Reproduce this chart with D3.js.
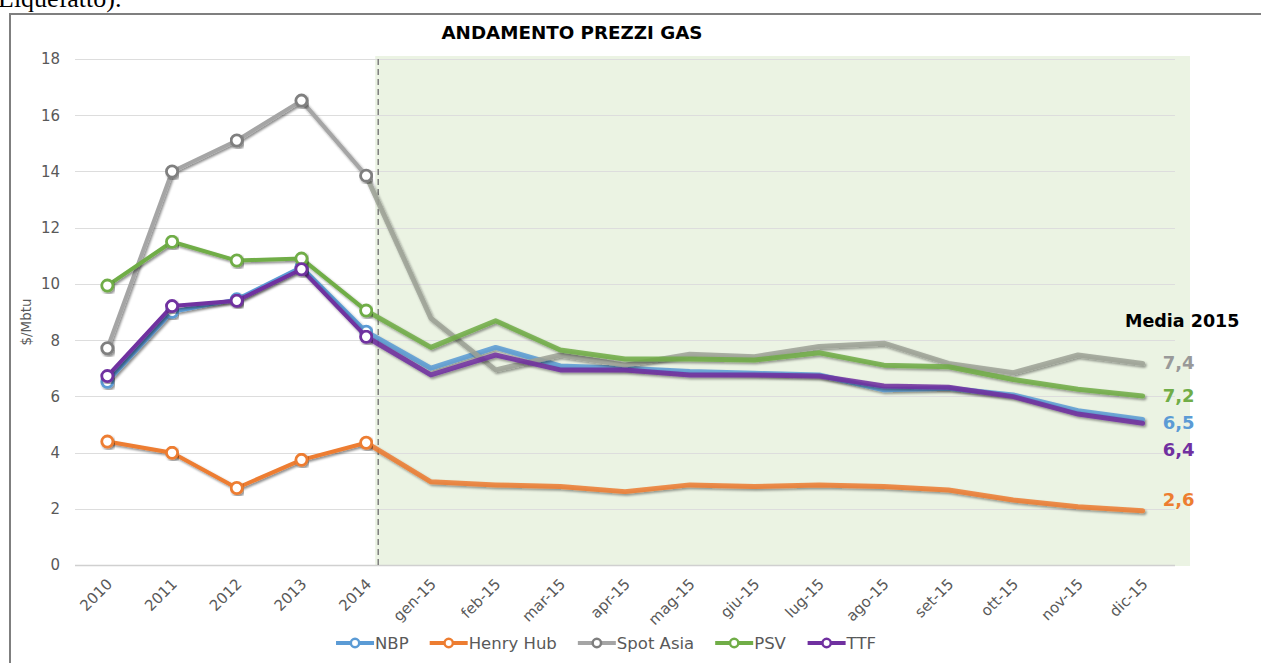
<!DOCTYPE html>
<html>
<head>
<meta charset="utf-8">
<script src="https://cdn.jsdelivr.net/npm/d3@7"></script>
<style>
  body { margin: 0; background: #fff; overflow: hidden; }
  svg { display: block; font-family: "DejaVu Sans", Verdana, sans-serif; }
</style>
</head>
<body>
<div id="chart"></div>
<script>
// ---- data ----
var categories = ["2010", "2011", "2012", "2013", "2014",
  "gen-15", "feb-15", "mar-15", "apr-15", "mag-15", "giu-15",
  "lug-15", "ago-15", "set-15", "ott-15", "nov-15", "dic-15"];

var nbp       = [6.52, 9.01, 9.45, 10.6, 8.3, 7.0, 7.74, 7.08, 7.0, 6.88, 6.82, 6.76, 6.23, 6.29, 6.05, 5.49, 5.18];
var henryHub  = [4.39, 3.99, 2.74, 3.74, 4.35, 2.96, 2.85, 2.79, 2.61, 2.85, 2.79, 2.85, 2.79, 2.67, 2.31, 2.07, 1.93];
var spotAsia  = [7.71, 14.0, 15.1, 16.52, 13.85, 8.78, 6.94, 7.47, 7.11, 7.5, 7.41, 7.77, 7.89, 7.17, 6.84, 7.47, 7.17];
var psv       = [9.94, 11.5, 10.83, 10.9, 9.05, 7.74, 8.69, 7.65, 7.33, 7.33, 7.29, 7.55, 7.11, 7.05, 6.6, 6.25, 6.01];
var ttf       = [6.72, 9.21, 9.4, 10.52, 8.12, 6.76, 7.47, 6.94, 6.94, 6.76, 6.76, 6.72, 6.37, 6.32, 5.99, 5.37, 5.04];

var seriesNames = ["NBP", "Henry Hub", "Spot Asia", "PSV", "TTF"];
var yTicks = [0, 2, 4, 6, 8, 10, 12, 14, 16, 18];

// 2015 averages shown on the right
var mediaNames  = ["Spot Asia", "PSV", "NBP", "TTF", "Henry Hub"];
var mediaValues = [7.4, 7.2, 6.5, 6.4, 2.6];

// ---- styling ----
var colors = {
  "NBP": "#5B9BD5", "Henry Hub": "#ED7D31", "Spot Asia": "#A5A5A5",
  "PSV": "#70AD47", "TTF": "#7030A0"
};
var monthColors = {
  "NBP": "#5B9BD5", "Henry Hub": "#ED7D31", "Spot Asia": "#9EA297",
  "PSV": "#70AD47", "TTF": "#7030A0"
};
var markerColors = {
  "NBP": "#5B9BD5", "Henry Hub": "#ED7D31", "Spot Asia": "#7F7F7F",
  "PSV": "#70AD47", "TTF": "#7030A0"
};
var labelColors = {
  "NBP": "#5B9BD5", "Henry Hub": "#ED7D31", "Spot Asia": "#999999",
  "PSV": "#70AD47", "TTF": "#7030A0"
};
// vertical nudge of the average labels so they don't collide
var labelNudge = {"Spot Asia": -1, "PSV": -1, "NBP": 3, "TTF": 26, "Henry Hub": -11};

var W = 1261, H = 663;
var plot = {left: 75, right: 1175, top: 59, bottom: 565};

var svg = d3.select("#chart").append("svg")
  .attr("width", W).attr("height", H);

var defs = svg.append("defs");
var shadow = defs.append("filter").attr("id", "shadow")
  .attr("x", "-10%").attr("y", "-10%").attr("width", "120%").attr("height", "130%");
shadow.append("feDropShadow")
  .attr("dx", 1.5).attr("dy", 1.8).attr("stdDeviation", 1.2)
  .attr("flood-color", "#000").attr("flood-opacity", 0.45);

// text of the surrounding document, clipped at the top
svg.append("text")
  .attr("x", -2).attr("y", 7)
  .style("font-family", "'Liberation Serif', serif")
  .style("font-size", "26px")
  .attr("fill", "#000")
  .text("Liquefatto).");

// frame of the chart object
svg.append("path")
  .attr("d", "M10," + H + "V14H" + W)
  .attr("fill", "none").attr("stroke", "#7F7F7F").attr("stroke-width", 2);

// scales
var x = d3.scaleBand().domain(categories).range([plot.left, plot.right]);
var xc = function(d) { return x(d) + x.bandwidth() / 2; };
var y = d3.scaleLinear().domain([0, 18]).range([plot.bottom, plot.top]);

// green band for the 2015 months
var bandStart = xc("2014") + x.bandwidth() * 0.14;
svg.append("rect")
  .attr("x", bandStart).attr("y", plot.top - 3)
  .attr("width", plot.right + 15 - bandStart)
  .attr("height", plot.bottom - plot.top + 4)
  .attr("fill", "#EBF3E3");

// gridlines
svg.append("g").selectAll("line")
  .data(yTicks).enter().append("line")
  .attr("x1", plot.left).attr("x2", plot.right)
  .attr("y1", function(d) { return Math.round(y(d)) + 0.5; })
  .attr("y2", function(d) { return Math.round(y(d)) + 0.5; })
  .attr("stroke", function(d) { return d === 0 ? "#D0D0D0" : "#DDDDDD"; })
  .attr("stroke-width", function(d) { return d === 0 ? 1.5 : 1; });

// y tick labels
svg.append("g").selectAll("text")
  .data(yTicks).enter().append("text")
  .attr("x", plot.left - 15)
  .attr("y", function(d) { return y(d); })
  .attr("dy", "0.36em")
  .attr("text-anchor", "end")
  .attr("fill", "#595959")
  .style("font-size", "15px")
  .text(function(d) { return d; });

// y axis title
svg.append("text")
  .attr("transform", "translate(31," + ((plot.top + plot.bottom) / 2 + 10) + ") rotate(-90)")
  .attr("text-anchor", "middle")
  .attr("fill", "#595959")
  .style("font-size", "13.5px")
  .text("$/Mbtu");

// x tick labels
svg.append("g").selectAll("text")
  .data(categories).enter().append("text")
  .attr("transform", function(d) { return "translate(" + (xc(d) + 6) + ",585) rotate(-45)"; })
  .attr("text-anchor", "end")
  .attr("fill", "#595959")
  .style("font-size", "15px")
  .text(function(d) { return d; });

// dashed separator between years and months
svg.append("line")
  .attr("x1", bandStart + 3).attr("x2", bandStart + 3)
  .attr("y1", plot.top).attr("y2", plot.bottom)
  .attr("stroke", "#808080").attr("stroke-width", 1.5)
  .attr("stroke-dasharray", "6,4");

// title
svg.append("text")
  .attr("x", 572).attr("y", 39)
  .attr("text-anchor", "middle")
  .style("font-size", "18.3px").style("font-weight", "bold")
  .attr("fill", "#000")
  .text("ANDAMENTO PREZZI GAS");

// lines
var allSeries = [nbp, henryHub, spotAsia, psv, ttf];
var line = d3.line()
  .x(function(d) { return xc(d.cat); })
  .y(function(d) { return y(d.v); });

var lineG = svg.append("g");
allSeries.forEach(function(vals, i) {
  var name = seriesNames[i];
  var pts = vals.map(function(v, j) { return {cat: categories[j], v: v}; });
  var annual = pts.slice(0, 5);
  var monthly = pts.slice(4);
  var g = lineG.append("g");

  g.append("path")
    .datum(monthly)
    .attr("d", line)
    .attr("fill", "none")
    .attr("stroke", monthColors[name])
    .attr("stroke-opacity", 0.85)
    .attr("stroke-width", 5)
    .attr("stroke-linejoin", "round")
    .attr("stroke-linecap", "round")
    .attr("filter", "url(#shadow)");

  g.append("path")
    .datum(annual)
    .attr("d", line)
    .attr("fill", "none")
    .attr("stroke", colors[name])
    .attr("stroke-width", 4)
    .attr("stroke-linejoin", "round")
    .attr("filter", "url(#shadow)");

  g.selectAll("circle")
    .data(annual).enter().append("circle")
    .attr("cx", function(d) { return xc(d.cat); })
    .attr("cy", function(d) { return y(d.v); })
    .attr("r", 5.6)
    .attr("fill", "#fff")
    .attr("stroke", markerColors[name])
    .attr("stroke-width", 2.8)
    .attr("filter", "url(#shadow)");
});

// averages on the right
svg.append("text")
  .attr("x", 1125).attr("y", 327)
  .style("font-size", "17.5px").style("font-weight", "bold")
  .attr("fill", "#000")
  .text("Media 2015");

var lastCat = categories[categories.length - 1];
var lastValue = {
  "NBP": nbp[nbp.length - 1], "Henry Hub": henryHub[henryHub.length - 1],
  "Spot Asia": spotAsia[spotAsia.length - 1], "PSV": psv[psv.length - 1],
  "TTF": ttf[ttf.length - 1]
};
svg.append("g").selectAll("text")
  .data(mediaNames).enter().append("text")
  .attr("x", xc(lastCat) + 20)
  .attr("y", function(d) { return y(lastValue[d]) + labelNudge[d]; })
  .attr("dy", "0.36em")
  .style("font-size", "18px").style("font-weight", "bold")
  .attr("fill", function(d) { return labelColors[d]; })
  .text(function(d, i) { return d3.format(".1f")(mediaValues[i]).replace(".", ","); });

// legend
var legend = svg.append("g");
var legendY = 643, legendCenter = 606;
var items = legend.selectAll("g").data(seriesNames).enter().append("g");
items.append("line")
  .attr("x1", 0).attr("x2", 38).attr("y1", 0).attr("y2", 0)
  .attr("stroke", function(d) { return colors[d]; })
  .attr("stroke-width", 4);
items.append("circle")
  .attr("cx", 19).attr("cy", 0).attr("r", 4.2)
  .attr("fill", "#fff")
  .attr("stroke", function(d) { return markerColors[d]; })
  .attr("stroke-width", 2.5);
items.append("text")
  .attr("x", 39).attr("y", 0).attr("dy", "0.36em")
  .attr("fill", "#595959")
  .style("font-size", "16.5px")
  .text(function(d) { return d; });

var widths = [];
items.each(function() { widths.push(this.getBBox().width); });
var gap = 21;
var total = d3.sum(widths) + gap * (widths.length - 1);
var cursor = legendCenter - total / 2;
items.attr("transform", function(d, i) {
  var t = "translate(" + cursor + "," + legendY + ")";
  cursor += widths[i] + gap;
  return t;
});
</script>
</body>
</html>
